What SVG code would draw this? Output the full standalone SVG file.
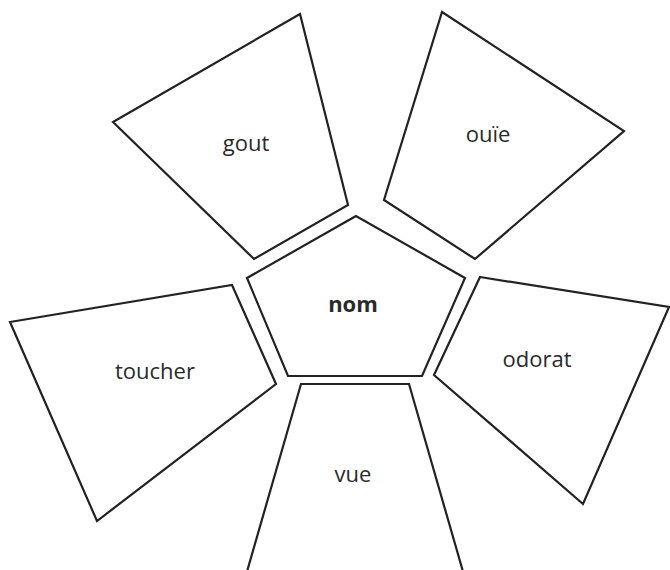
<svg xmlns="http://www.w3.org/2000/svg" width="670" height="570" viewBox="0 0 670 570">
<style>
.shape{fill:#fff;stroke:#222;stroke-width:2.2;stroke-linejoin:miter}
.lbl{font-family:"Open Sans","Noto Sans","Liberation Sans",sans-serif;font-size:22px;fill:#2a2a2a;text-anchor:middle}
.bold{font-weight:bold}
</style>
<rect width="670" height="570" fill="#fff"/>
<g id="gout">
<polygon class="shape" points="300,14 113,122 254,259 348,205"/>
<text class="lbl" x="246" y="151">gout</text>
</g>
<g id="ouie">
<polygon class="shape" points="442,12 624,131 475,259 384,200"/>
<text class="lbl" x="488" y="142">ouïe</text>
</g>
<g id="nom">
<polygon class="shape" points="356,216 247,278 288,376 422,376 465,278"/>
<text class="lbl bold" x="353" y="312">nom</text>
</g>
<g id="toucher">
<polygon class="shape" points="10,322 232,285 276,384 97,521"/>
<text class="lbl" x="155" y="379">toucher</text>
</g>
<g id="odorat">
<polygon class="shape" points="480,277 669,307 583,504 434,375"/>
<text class="lbl" x="537" y="367">odorat</text>
</g>
<g id="vue">
<polygon class="shape" points="301,384 409,384 466,582 244,582"/>
<text class="lbl" x="353" y="482">vue</text>
</g>
<g id="connectors"></g>
</svg>
